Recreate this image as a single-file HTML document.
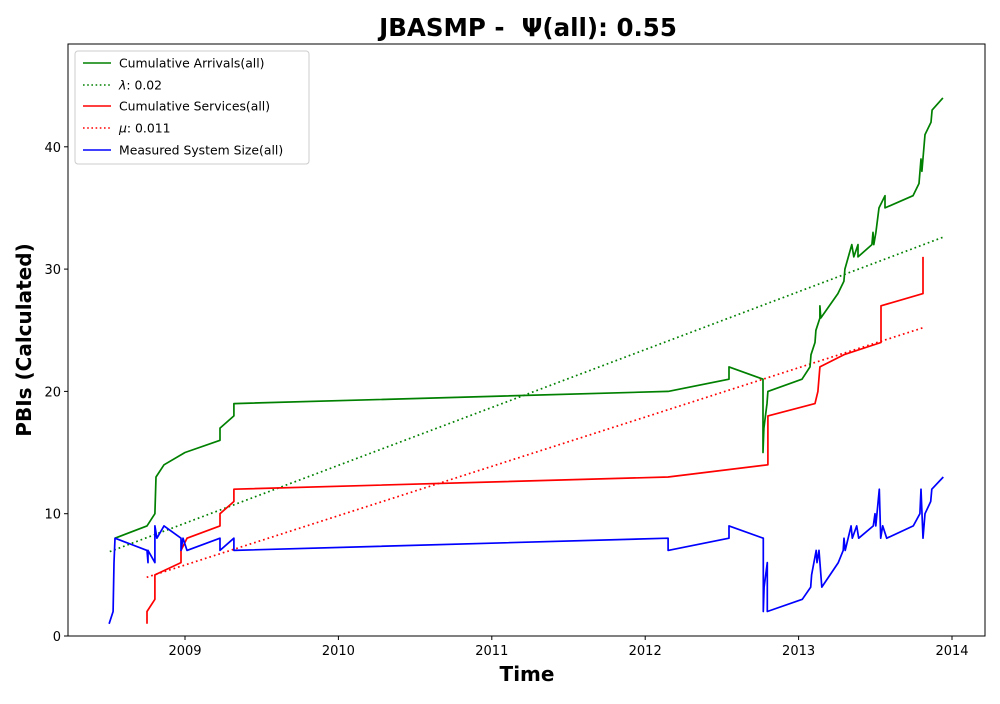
<!DOCTYPE html>
<html><head><meta charset="utf-8"><style>
body{margin:0;background:#fff;font-family:"DejaVu Sans",sans-serif}
</style></head><body>
<svg id="chart" width="1000" height="700" xmlns="http://www.w3.org/2000/svg" font-family="DejaVu Sans, sans-serif">
<text x="528" y="36" text-anchor="middle" font-size="24.5" font-weight="bold" xml:space="preserve">JBASMP -  Ψ(all): 0.55</text>
<text x="527" y="681" text-anchor="middle" font-size="20" font-weight="bold">Time</text>
<text transform="translate(31,340) rotate(-90)" text-anchor="middle" font-size="20" font-weight="bold">PBIs (Calculated)</text>
<g id="plot"></g>
<g id="axes"></g>
<g id="legend">
<rect x="75" y="51" width="234" height="113" rx="3" fill="#fff" fill-opacity="0.8" stroke="#ccc"/>
<line x1="83" y1="63" x2="111" y2="63" stroke="green" stroke-width="1.6"/><text x="119" y="67.5" font-size="12.4">Cumulative Arrivals(all)</text>
<line x1="83" y1="85" x2="111" y2="85" stroke="green" stroke-width="1.6" stroke-dasharray="1.6,2.6"/><text x="119" y="89.5" font-size="12.4"><tspan font-style="italic">λ</tspan>: 0.02</text>
<line x1="83" y1="106" x2="111" y2="106" stroke="red" stroke-width="1.6"/><text x="119" y="110.5" font-size="12.4">Cumulative Services(all)</text>
<line x1="83" y1="128" x2="111" y2="128" stroke="red" stroke-width="1.6" stroke-dasharray="1.6,2.6"/><text x="119" y="132.5" font-size="12.4"><tspan font-style="italic">μ</tspan>: 0.011</text>
<line x1="83" y1="150" x2="111" y2="150" stroke="blue" stroke-width="1.6"/><text x="119" y="154.5" font-size="12.4">Measured System Size(all)</text>
</g>
</svg>
<script>
const xTicks=[2009,2010,2011,2012,2013,2014];
const yTicks=[0,10,20,30,40];
const arrT=[2008.544,2008.752,2008.804,2008.811,2008.863,2009.0,2009.228,2009.228,2009.319,2009.319,2012.149,2012.546,2012.546,2012.768,2012.768,2012.774,2012.794,2012.8,2013.022,2013.074,2013.081,2013.107,2013.113,2013.139,2013.139,2013.145,2013.256,2013.295,2013.302,2013.347,2013.36,2013.387,2013.387,2013.478,2013.485,2013.49,2013.504,2013.524,2013.563,2013.563,2013.746,2013.785,2013.798,2013.804,2013.824,2013.863,2013.87,2013.941];
const arrV=[8,9,10,13,14,15,16,17,18,19,20,21,22,21,15,17,19,20,21,22,23,24,25,26,27,26,28,29,30,32,31,32,31,32,33,32,33,35,36,35,36,37,39,38,41,42,43,44];
const svcT=[2008.752,2008.752,2008.804,2008.804,2008.974,2008.974,2009.013,2009.228,2009.228,2009.319,2009.319,2012.149,2012.8,2012.8,2013.107,2013.126,2013.139,2013.295,2013.537,2013.537,2013.811,2013.811];
const svcV=[1,2,3,5,6,7,8,9,10,11,12,13,14,18,19,20,22,23,24,27,28,31];
const sizeT=[2008.505,2008.531,2008.537,2008.544,2008.752,2008.759,2008.759,2008.804,2008.804,2008.817,2008.863,2008.974,2008.974,2008.987,2009.013,2009.228,2009.228,2009.319,2009.319,2012.149,2012.149,2012.546,2012.546,2012.77,2012.77,2012.775,2012.796,2012.796,2013.024,2013.079,2013.085,2013.115,2013.12,2013.133,2013.151,2013.259,2013.291,2013.296,2013.304,2013.342,2013.35,2013.379,2013.392,2013.487,2013.498,2013.503,2013.526,2013.535,2013.548,2013.574,2013.748,2013.791,2013.798,2013.811,2013.824,2013.861,2013.868,2013.943];
const sizeV=[1,2,6,8,7,6,7,6,9,8,9,8,7,8,7,8,7,8,7,8,7,8,9,8,2,4,6,2,3,4,5,7,6,7,4,6,7,8,7,9,8,9,8,9,10,9,12,8,9,8,9,10,12,8,10,11,12,13];
const lambdaT=[2008.51,2013.94];
const lambdaV=[6.9,32.6];
const muT=[2008.75,2013.81];
const muV=[4.8,25.2];

const NS='http://www.w3.org/2000/svg';
const L=68,R=985,T=44,B=636;
function xs(t){return 185+(t-2009)*153.4;}
function ys(v){return 636-v*12.23;}
function mk(tag,attrs,parent){const e=document.createElementNS(NS,tag);for(const k in attrs)e.setAttribute(k,attrs[k]);parent.appendChild(e);return e;}
const plot=document.getElementById('plot'),axes=document.getElementById('axes');
function line(T_,V_,color,dash,name){
  const p=mk('polyline',{points:T_.map((t,i)=>xs(t).toFixed(1)+','+ys(V_[i]).toFixed(1)).join(' '),fill:'none',stroke:color,'stroke-width':1.7,'stroke-linejoin':'round'},plot);
  if(dash)p.setAttribute('stroke-dasharray','1.7,3');
  
  
}
line(lambdaT,lambdaV,'green',true,'lambda-trend-line');
line(muT,muV,'red',true,'mu-trend-line');
line(arrT,arrV,'green',false,'cumulative-arrivals-line');
line(svcT,svcV,'red',false,'cumulative-services-line');
line(sizeT,sizeV,'blue',false,'system-size-line');
const frame=mk('rect',{x:L,y:T,width:R-L,height:B-T,fill:'none',stroke:'#000','stroke-width':1},axes);


xTicks.forEach(t=>{
  const x=xs(t);
  mk('line',{x1:x,y1:B,x2:x,y2:B+4,stroke:'#000'},axes);
  const tx=mk('text',{x:x,y:B+19,'text-anchor':'middle','font-size':13},axes);
  tx.textContent=t;
  
  
});
yTicks.forEach(v=>{
  const y=ys(v);
  mk('line',{x1:L-4,y1:y,x2:L,y2:y,stroke:'#000'},axes);
  const tx=mk('text',{x:L-7,y:y+5,'text-anchor':'end','font-size':13},axes);
  tx.textContent=v;
  
  
});
</script>
</body></html>
